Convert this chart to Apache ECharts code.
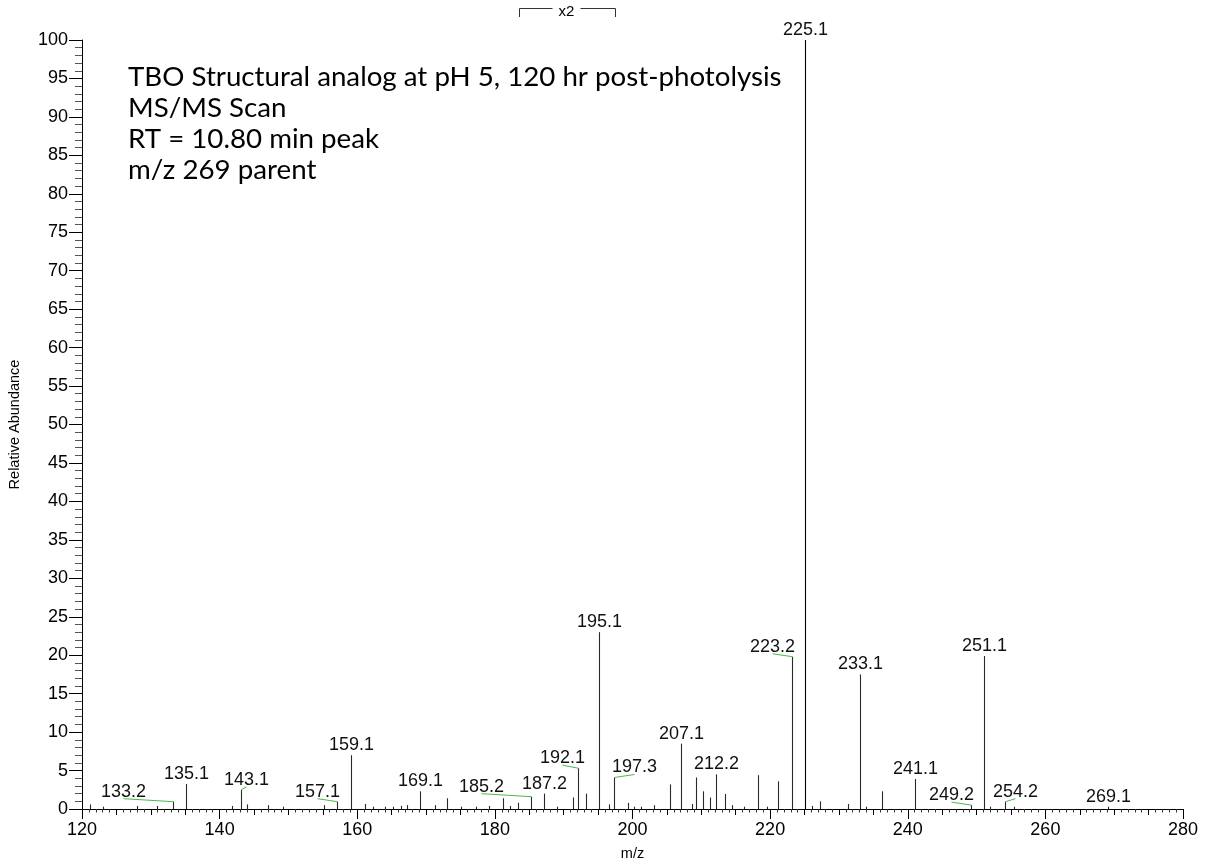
<!DOCTYPE html>
<html><head><meta charset="utf-8">
<script src="https://cdn.jsdelivr.net/npm/echarts@6/dist/echarts.min.js"></script>
<style>html,body{margin:0;padding:0;background:#fff}#c{width:1207px;height:861px}</style>
</head><body><div id="c"></div>
<script>
// ---------------- data ----------------
const peakMz = [121.2,123.1,128.0,130.9,133.2,135.1,141.8,143.1,144.0,147.1,149.2,155.1,157.1,159.1,161.1,162.3,164.0,165.2,166.3,167.2,169.1,171.3,173.0,175.1,177.2,179.2,181.2,182.2,183.3,185.2,187.2,189.1,191.3,192.1,193.3,195.1,196.6,197.3,199.3,200.2,201.2,203.1,205.4,207.1,208.7,209.2,210.3,211.2,212.2,213.4,214.5,216.2,218.3,219.5,221.1,223.2,225.1,226.1,227.3,231.3,233.1,233.9,236.3,241.1,249.2,251.1,252.0,254.2,255.5,269.1];
const peakIntensity = [0.6,0.3,0.4,0.4,0.95,3.25,0.4,2.5,0.6,0.5,0.3,0.5,0.95,7.0,0.65,0.3,0.3,0.3,0.4,0.5,2.3,0.5,1.4,0.3,0.3,0.4,1.4,0.4,0.8,1.6,2.0,0.3,1.5,5.3,2.0,23.0,0.6,4.1,0.8,0.3,0.3,0.5,3.2,8.5,0.65,4.1,2.3,1.5,4.5,1.95,0.5,0.3,4.4,0.3,3.6,19.8,100,0.4,1.0,0.65,17.5,0.3,2.3,3.9,0.5,19.9,0.3,0.95,0.3,0.3];
const labeledMz = [133.2,135.1,143.1,157.1,159.1,169.1,185.2,187.2,192.1,195.1,197.3,207.1,212.2,223.2,225.1,233.1,241.1,249.2,251.1,254.2,269.1];
const annotationLines = ['TBO Structural analog at pH 5, 120 hr post-photolysis','MS/MS Scan','RT = 10.80 min peak','m/z 269 parent'];
const magnifiedRange = [183.5, 197.5];
const magnifiedText = 'x2';
const xAxisName = 'm/z';
const yAxisName = 'Relative Abundance';

// ---------------- layout / style ----------------
const labelShift = {'133.2':-50,'143.1':5,'157.1':-20,'185.2':-50,'192.1':-16,'197.3':20,'223.2':-20,'249.2':-20,'254.2':10};
const FONT = '"Liberation Sans", Arial, sans-serif';
const ANN_FONT = 'Lato, "Open Sans", sans-serif';

const stickData = peakMz.map((m,i)=>[m, peakIntensity[i]]);
const labelData = labeledMz.map(m=>[m, peakIntensity[peakMz.indexOf(m)]]);

// fit annotation font to reference width
const ctx = document.createElement('canvas').getContext('2d');
ctx.font = '24px ' + ANN_FONT;
const annSize = Math.round(24 * 654 / ctx.measureText(annotationLines[0]).width * 10) / 10;

const chart = echarts.init(document.getElementById('c'), null, {renderer:'canvas'});
const option = {
  animation:false,
  backgroundColor:'#fff',
  grid:{left:82, right:24, top:40, bottom:52, containLabel:false, outerBoundsMode:'none'},
  xAxis:[{
    type:'value', min:120, max:280, interval:20,
    name:xAxisName, nameLocation:'middle', nameGap:37,
    nameTextStyle:{fontSize:14.5, fontFamily:FONT, color:'#000'},
    axisLine:{show:true, onZero:false, lineStyle:{color:'#000', width:1}},
    axisTick:{show:true, length:10, lineStyle:{color:'#000'}},
    minorTick:{show:true, splitNumber:20, length:3.5, lineStyle:{color:'#333'}},
    axisLabel:{fontSize:18, fontFamily:FONT, color:'#000', margin:12},
    splitLine:{show:false}
  },{
    type:'value', min:120, max:280, interval:5, position:'bottom',
    axisLine:{show:false}, axisLabel:{show:false}, splitLine:{show:false},
    axisTick:{show:true, length:6, lineStyle:{color:'#000'}}
  }],
  yAxis:{
    type:'value', min:0, max:100, interval:5,
    name:yAxisName, nameLocation:'middle', nameGap:60,
    nameTextStyle:{fontSize:14.5, fontFamily:FONT, color:'#000'},
    axisLine:{show:true, lineStyle:{color:'#000', width:1}},
    axisTick:{show:true, length:13, lineStyle:{color:'#000'}},
    minorTick:{show:true, splitNumber:5, length:7, lineStyle:{color:'#555'}},
    axisLabel:{fontSize:18, fontFamily:FONT, color:'#000', margin:14},
    splitLine:{show:false}
  },
  series:[{
    type:'custom', name:'spectrum', clip:false, silent:true,
    data:stickData, encode:{x:0,y:1},
    renderItem:(params, api)=>{
      const b = api.coord([api.value(0), 0]);
      const t = api.coord([api.value(0), api.value(1)]);
      const x = Math.round(b[0]) + 0.5;
      return {type:'line', shape:{x1:x, y1:b[1], x2:x, y2:t[1]},
        style:{stroke: api.value(1) >= 100 ? '#000' : '#2a2a2a', lineWidth:1.1}};
    }
  },{
    type:'custom', name:'labels', clip:false, silent:true,
    data:labelData, encode:{x:0,y:1},
    renderItem:(params, api)=>{
      const mz = api.value(0);
      const t = api.coord([mz, api.value(1)]);
      const key = mz.toFixed(1);
      const dx = labelShift[key] || 0;
      const px = Math.round(t[0]) + 0.5;
      const cx = px + dx;
      const by = t[1] - 1;
      const ch = [{type:'text', style:{text:key, x:cx, y:by, align:'center', verticalAlign:'bottom',
        font:'18px ' + FONT, fill:'#111'}}];
      if (dx) ch.push({type:'line', shape:{x1:cx, y1:t[1]-3, x2:px, y2:t[1]},
        style:{stroke:'#4cb84c', lineWidth:1}});
      return {type:'group', children:ch};
    }
  }],
  graphic: annotationLines.map((s,i)=>({
    type:'text', left:128, top:63 + i*31, silent:true,
    style:{text:s, font: annSize + 'px ' + ANN_FONT, fill:'#000'}
  }))
};
chart.setOption(option);

// magnification bracket, positioned through the x scale
const xl = Math.round(chart.convertToPixel({xAxisIndex:0}, magnifiedRange[0])) + 0.5;
const xr = Math.round(chart.convertToPixel({xAxisIndex:0}, magnifiedRange[1])) + 0.5;
const xm = (xl + xr) / 2;
chart.setOption({graphic: option.graphic.concat([
  {type:'polyline', silent:true, shape:{points:[[xl,17],[xl,8.5],[xm-15,8.5]]}, style:{stroke:'#333', fill:null, lineWidth:1}},
  {type:'polyline', silent:true, shape:{points:[[xm+13,8.5],[xr,8.5],[xr,17]]}, style:{stroke:'#333', fill:null, lineWidth:1}},
  {type:'text', silent:true, x:xm-1, y:12, style:{text:magnifiedText, align:'center', verticalAlign:'middle', font:'15px ' + FONT, fill:'#000'}}
])});
</script></body></html>
